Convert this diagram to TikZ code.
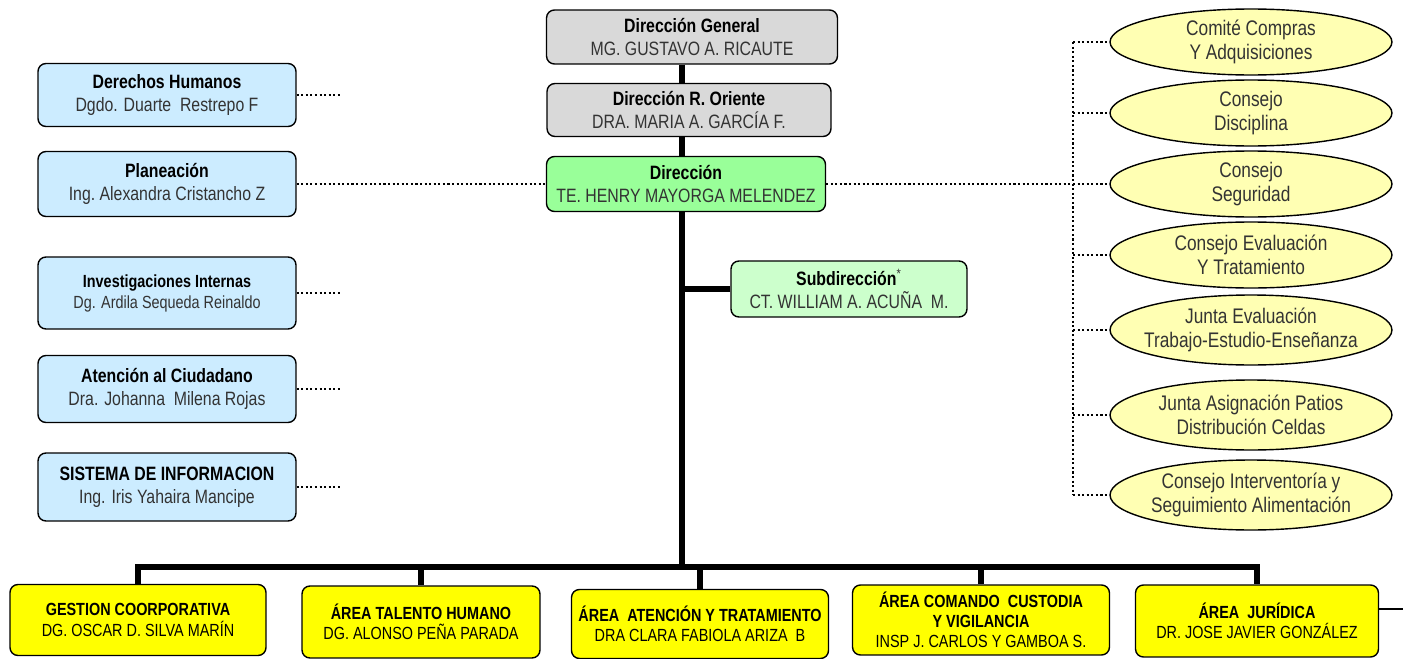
\documentclass[tikz,border=0pt]{standalone}
\usepackage{fontspec}
\setmainfont[FakeStretch=0.82]{Liberation Sans}
\usepackage{xcolor}
\usepackage{tikz}
\usetikzlibrary{shapes.geometric, positioning, calc}
\definecolor{dirgray}{HTML}{D9D9D9}
\definecolor{dirgreen}{HTML}{99FF99}
\definecolor{subgreen}{HTML}{CCFFCC}
\definecolor{staffblue}{HTML}{CCECFF}
\definecolor{cmtyellow}{HTML}{FFFFB3}
\definecolor{areayellow}{HTML}{FFFF00}
\definecolor{txtgray}{HTML}{333333}
\newcommand{\boxtitle}[1]{\textcolor{black}{\textbf{#1}}}
\tikzset{
  box/.style      = {rectangle, draw, line width=0.8pt, rounded corners=4.5pt,
                     align=center, inner sep=2pt, text=txtgray},
  topbox/.style   = {box, font=\fontsize{11}{13}\selectfont},
  staffbox/.style = {box, fill=staffblue, minimum width=5.16cm,
                     font=\fontsize{11}{13}\selectfont},
  areabox/.style  = {box, fill=areayellow, text=black,
                     font=\fontsize{10}{11.5}\selectfont},
  council/.style  = {ellipse, draw, line width=0.8pt, fill=cmtyellow,
                     minimum width=5.64cm, minimum height=1.32cm,
                     inner xsep=-8mm, inner ysep=-1mm, align=center,
                     text=txtgray, font=\fontsize{12}{14}\selectfont},
  trunk/.style    = {line width=3pt},
  dotlink/.style  = {line width=1.3pt, dash pattern=on 1.2pt off 1.4pt},
}

\begin{document}
\begin{tikzpicture}[x=0.02cm, y=-0.02cm]
  \useasboundingbox (0,0) rectangle (1414,659);
  % direction chain
  \node[topbox, fill=dirgray, minimum width=5.82cm, minimum height=1.08cm] (dg) at (692,37)
        {\boxtitle{Dirección General}\\MG. GUSTAVO A. RICAUTE};
  \node[topbox, fill=dirgray, minimum width=5.68cm, minimum height=1.06cm] (dro) at (689,110)
        {\boxtitle{Dirección R. Oriente}\\DRA. MARIA A. GARCÍA F.};
  \node[topbox, fill=dirgreen, minimum width=5.58cm, minimum height=1.1cm] (dir) at (686,184)
        {\boxtitle{Dirección}\\TE. HENRY MAYORGA MELENDEZ};
  \node[topbox, fill=subgreen, minimum width=4.72cm, minimum height=1.12cm] (sub) at (849,289)
        {\boxtitle{Subdirección}\textsuperscript{*}\\CT. WILLIAM A. ACUÑA\ \ M.};
  % staff offices
  \node[staffbox, minimum height=1.26cm] (dh) at (167,95)
        {\boxtitle{Derechos Humanos}\\Dgdo. Duarte\ \ Restrepo F};
  \node[staffbox, minimum height=1.3cm] (plan) at (167,184)
        {\boxtitle{Planeación}\\Ing.\ Alexandra Cristancho Z};
  \node[staffbox, minimum height=1.44cm, font=\fontsize{10}{12}\selectfont] (inv) at (167,293)
        {\boxtitle{Investigaciones Internas}\\Dg. Ardila Sequeda Reinaldo};
  \node[staffbox, minimum height=1.34cm] (aten) at (167,389)
        {\boxtitle{Atención al Ciudadano}\\Dra. Johanna\ \ Milena Rojas};
  \node[staffbox, minimum height=1.36cm] (sis) at (167,487)
        {\boxtitle{SISTEMA DE INFORMACION}\\Ing. Iris Yahaira Mancipe};
  % councils
  \node[council] (comp) at (1251,42)  {Comité Compras\\Y Adquisiciones};
  \node[council] (disc) at (1251,113) {Consejo\\Disciplina};
  \node[council] (seg)  at (1251,184) {Consejo\\Seguridad};
  \node[council] (eval) at (1251,255) {Consejo Evaluación\\Y Tratamiento};
  \node[council, minimum height=1.4cm] (jtee) at (1251,330) {Junta Evaluación\\Trabajo-Estudio-Enseñanza};
  \node[council, minimum height=1.4cm] (jpat) at (1251,415) {Junta Asignación Patios\\Distribución Celdas};
  \node[council, minimum height=1.4cm] (alim) at (1251,495) {Consejo Interventoría y\\Seguimiento Alimentación};
  % areas
  \node[areabox, minimum width=5.12cm, minimum height=1.42cm] (gc) at (138,620)
        {\textbf{GESTION COORPORATIVA}\\DG. OSCAR D. SILVA MARÍN};
  \node[areabox, minimum width=4.76cm, minimum height=1.44cm] (th) at (421,622)
        {\textbf{ÁREA TALENTO HUMANO}\\DG. ALONSO PEÑA PARADA};
  \node[areabox, minimum width=5.14cm, minimum height=1.38cm] (at) at (700,624)
        {\textbf{ÁREA\ \ ATENCIÓN Y TRATAMIENTO}\\DRA CLARA FABIOLA ARIZA\ \ B};
  \node[areabox, minimum width=5.14cm, minimum height=1.4cm] (cc) at (981,620)
        {\textbf{ÁREA COMANDO\ \ CUSTODIA}\\\textbf{Y VIGILANCIA}\\INSP J. CARLOS Y GAMBOA S.};
  \node[areabox, minimum width=4.86cm, minimum height=1.44cm] (aj) at (1257,621)
        {\textbf{ÁREA\ \ JURÍDICA}\\DR. JOSE JAVIER GONZÁLEZ};
  \coordinate (jct)   at (682,567);
  \coordinate (stub)  at (342,0);
  \coordinate (rbus)  at (1073,183);
  \coordinate (ajend) at (1403,609);
  % solid lines
  \draw[trunk] (dg.south -| jct) -- (dro.north -| jct);
  \draw[trunk] (dro.south -| jct) -- (dir.north -| jct);
  \draw[trunk] (dir.south -| jct) -- (jct);
  \draw[trunk] (sub.west) -- (sub.west -| jct);
  \draw[trunk] (gc.north) -- (gc.north |- jct) -- (aj.north |- jct) -- (aj.north);
  \foreach \b in {th,at,cc}
    \draw[trunk] (\b.north |- jct) -- (\b.north);
  \draw[line width=0.9pt] (aj.east |- ajend) -- (ajend);
  % dotted lines
  \foreach \s in {dh,inv,aten,sis}
    \draw[dotlink] (\s.east) -- (\s.east -| stub);
  \draw[dotlink] (plan.east) -- (plan.east -| dir.west);
  \draw[dotlink] (dir.east) -- (dir.east -| rbus);
  \draw[dotlink] (comp.west -| rbus) -- (alim.west -| rbus);
  \foreach \c in {comp,disc,seg,eval,jtee,jpat,alim}
    \draw[dotlink] (\c.west -| rbus) -- (\c.west);
\end{tikzpicture}
\end{document}
